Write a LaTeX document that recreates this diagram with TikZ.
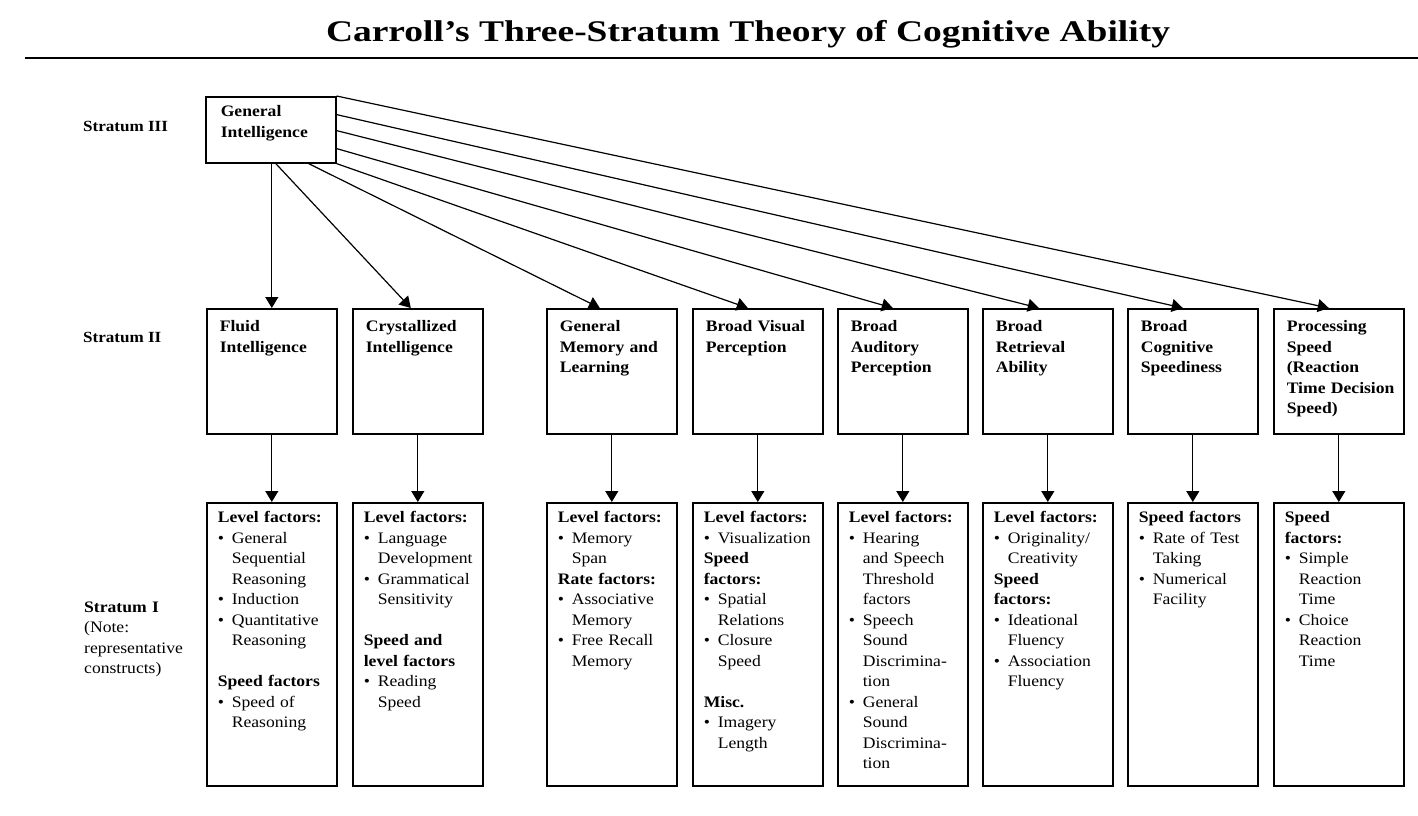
\documentclass[tikz,border=0pt]{standalone}
\usepackage{fontspec}
\setmainfont{Liberation Serif}[FakeStretch=1.1]
\newfontfamily\titlefont{Liberation Serif}[FakeStretch=1.25]
\usetikzlibrary{arrows.meta}

\newcommand{\fhead}[1]{\textbf{#1}\par}
\newcommand{\fitem}[1]{\hangindent=14pt\hangafter=1\makebox[14pt][l]{\textbullet}#1\par}
\newcommand{\fgap}{\vspace{20.5pt}}

\begin{document}
\begin{tikzpicture}
[x=1pt,y=-1pt
,txt/.style={font=\fontsize{16}{20.5}\selectfont}
,lab/.style={txt,inner sep=0pt,anchor=base west}
,box/.style={txt,draw,line width=1.6pt,anchor=north west,inner sep=0pt,text width=130pt}
,gen/.style={box,font=\fontsize{16}{20.5}\selectfont\bfseries,text height=20pt,text depth=46pt,execute at begin node={\leftskip=15pt}}
,brd/.style={box,font=\fontsize{16}{20.5}\selectfont\bfseries,text height=23pt,text depth=102pt,execute at begin node={\leftskip=13pt}}
,lvl/.style={box,text height=20pt,text depth=263pt,execute at begin node={\leftskip=11pt}}
,be/.style={line width=1.2pt,arrows={-Triangle[length=11pt,width=13pt]}}]
\useasboundingbox (0,0) rectangle (1418,816);

% title and rule
\node[font=\titlefont\fontsize{30}{36}\selectfont\bfseries,anchor=base,inner sep=0pt] (ttl) at (748,42)
  {Carroll’s Three-Stratum Theory of Cognitive Ability};
\draw[line width=1.8pt] (25,58) -- (1418,58);

% strata
\node[lab,font=\fontsize{15.5}{20.5}\selectfont\bfseries] (l3) at (83,131) {Stratum III};
\node[lab,font=\fontsize{15.5}{20.5}\selectfont\bfseries] (l2) at (83,342) {Stratum II};
\node[lab,text width=130pt] (l1) at (84,612)
  {\textbf{Stratum I}\newline (Note:\newline representative\newline constructs)};

\node[gen] (g) at (205,96) {General\newline Intelligence};

\node[brd] (s1) at (206,308) {Fluid\newline Intelligence};
\node[brd] (s2) at (352,308) {Crystallized\newline Intelligence};
\node[brd] (s3) at (546,308) {General\newline Memory and\newline Learning};
\node[brd] (s4) at (692,308) {Broad Visual\newline Perception};
\node[brd] (s5) at (837,308) {Broad\newline Auditory\newline Perception};
\node[brd] (s6) at (982,308) {Broad\newline Retrieval\newline Ability};
\node[brd] (s7) at (1127,308) {Broad\newline Cognitive\newline Speediness};
\node[brd] (s8) at (1273,308) {Processing\newline Speed\newline (Reaction\newline Time Decision\newline Speed)};

\node[lvl] (t1) at (206,502) {\fhead{Level factors:}
  \fitem{General\newline Sequential\newline Reasoning}
  \fitem{Induction}
  \fitem{Quantitative\newline Reasoning}\fgap
  \fhead{Speed factors}
  \fitem{Speed of\newline Reasoning}};
\node[lvl] (t2) at (352,502) {\fhead{Level factors:}
  \fitem{Language\newline Development}
  \fitem{Grammatical\newline Sensitivity}\fgap
  \fhead{Speed and\newline level factors}
  \fitem{Reading\newline Speed}};
\node[lvl] (t3) at (546,502) {\fhead{Level factors:}
  \fitem{Memory\newline Span}
  \fhead{Rate factors:}
  \fitem{Associative\newline Memory}
  \fitem{Free Recall\newline Memory}};
\node[lvl] (t4) at (692,502) {\fhead{Level factors:}
  \fitem{Visualization}
  \fhead{Speed\newline factors:}
  \fitem{Spatial\newline Relations}
  \fitem{Closure\newline Speed}\fgap
  \fhead{Misc.}
  \fitem{Imagery\newline Length}};
\node[lvl] (t5) at (837,502) {\fhead{Level factors:}
  \fitem{Hearing\newline and Speech\newline Threshold\newline factors}
  \fitem{Speech\newline Sound\newline Discrimina-\newline tion}
  \fitem{General\newline Sound\newline Discrimina-\newline tion}};
\node[lvl] (t6) at (982,502) {\fhead{Level factors:}
  \fitem{Originality/\newline Creativity}
  \fhead{Speed\newline factors:}
  \fitem{Ideational\newline Fluency}
  \fitem{Association\newline Fluency}};
\node[lvl] (t7) at (1127,502) {\fhead{Speed factors}
  \fitem{Rate of Test\newline Taking}
  \fitem{Numerical\newline Facility}};
\node[lvl] (t8) at (1273,502) {\fhead{Speed\newline factors:}
  \fitem{Simple\newline Reaction\newline Time}
  \fitem{Choice\newline Reaction\newline Time}};

% stratum III to II
\draw[be] (g.south -| s1.north) -- (s1.north);
\draw[be] ([xshift=5pt]g.south) -- ([xshift=-7pt]s2.north);
\draw[be] ([xshift=-28pt]g.south east) -- ([xshift=-12pt]s3.north);
\draw[be] (g.south east) -- ([xshift=-10pt]s4.north);
\draw[be] ([yshift=15pt]g.south east) -- ([xshift=-10pt]s5.north);
\draw[be] ([yshift=33pt]g.south east) -- ([xshift=-9pt]s6.north);
\draw[be] ([yshift=49pt]g.south east) -- ([xshift=-10pt]s7.north);
\draw[be] (g.north east) -- ([xshift=-10pt]s8.north);

% stratum II to I
\draw[be] (s1.south) -- (t1.north);
\draw[be] (s2.south) -- (t2.north);
\draw[be] (s3.south) -- (t3.north);
\draw[be] (s4.south) -- (t4.north);
\draw[be] (s5.south) -- (t5.north);
\draw[be] (s6.south) -- (t6.north);
\draw[be] (s7.south) -- (t7.north);
\draw[be] (s8.south) -- (t8.north);
\end{tikzpicture}
\end{document}
